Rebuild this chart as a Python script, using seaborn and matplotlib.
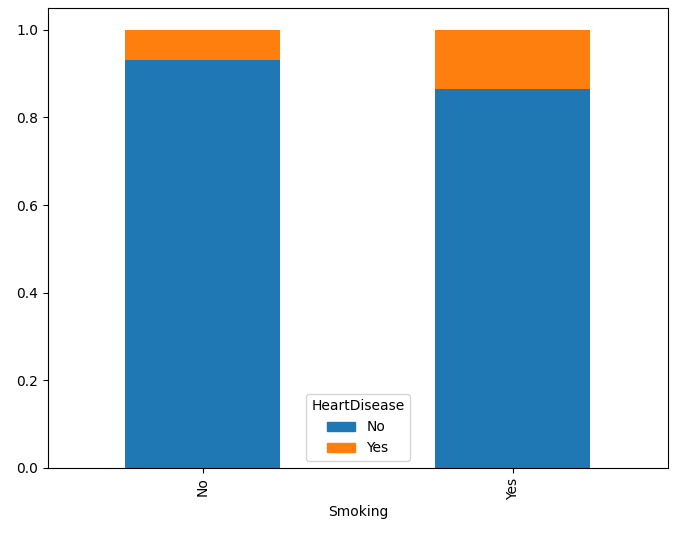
import matplotlib
matplotlib.use("Agg")
import matplotlib.pyplot as plt
import seaborn as sns
import pandas as pd
from matplotlib.patches import Patch

smoking = ["No", "Yes"]
hd_no = [0.932, 0.866]
hd_yes = [0.068, 0.134]

df = pd.DataFrame({"Smoking": smoking, "No": hd_no, "Yes": hd_yes})
df["Total"] = df["No"] + df["Yes"]

fig, ax = plt.subplots(figsize=(6.76, 5.34), dpi=100)
fig.subplots_adjust(left=0.071, right=0.988, top=0.985, bottom=0.124)
sns.barplot(data=df, x="Smoking", y="Total", color="#ff7f0e", saturation=1, width=0.5, ax=ax)
sns.barplot(data=df, x="Smoking", y="No", color="#1f77b4", saturation=1, width=0.5, ax=ax)
ax.set_xlim(-0.5, 1.5)
ax.set_ylim(0, 1.05)
ax.set_ylabel("")
ax.set_xlabel("Smoking")
plt.setp(ax.get_xticklabels(), rotation=90)
ax.legend(handles=[Patch(color="#1f77b4", label="No"), Patch(color="#ff7f0e", label="Yes")],
          title="HeartDisease", loc="lower center")
fig.savefig("out.png", dpi=100)
